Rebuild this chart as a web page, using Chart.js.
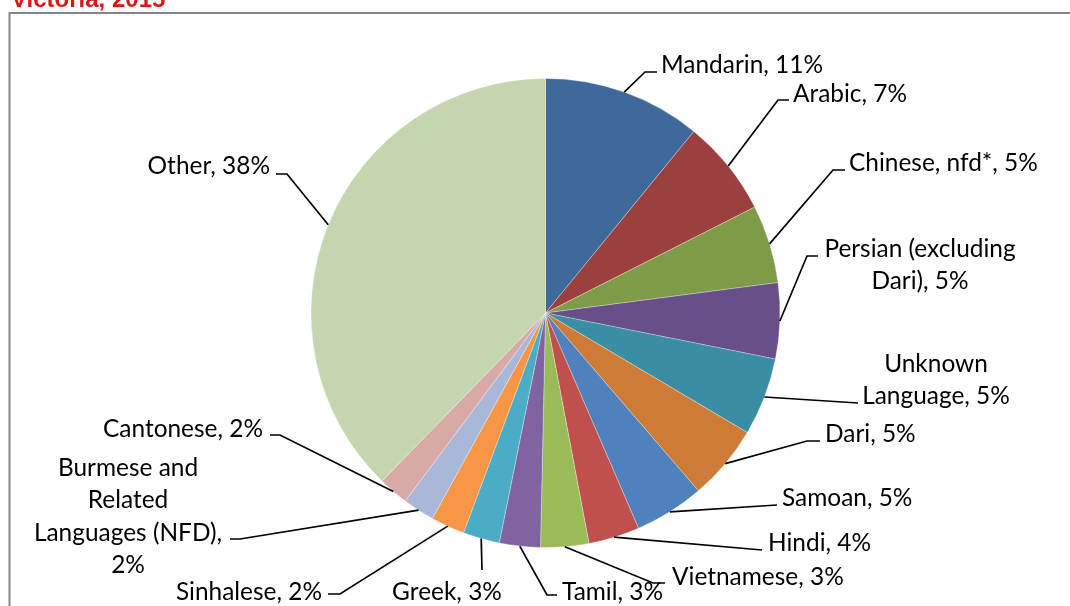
<!DOCTYPE html>
<html><head><meta charset="utf-8">
<script src="https://cdn.jsdelivr.net/npm/chart.js@4/dist/chart.umd.min.js"></script>
<style>html,body{margin:0;padding:0;background:#fff}#wrap{width:1070px;height:606px;position:relative}</style>
</head><body><div id="wrap"><canvas id="c" width="1070" height="606"></canvas></div>
<script>
const titleText = "Victoria, 2015";
const categories = ["Mandarin","Arabic","Chinese, nfd*","Persian (excluding Dari)","Unknown Language","Dari","Samoan","Hindi","Vietnamese","Tamil","Greek","Sinhalese","Burmese and Related Languages (NFD)","Cantonese","Other"];
const shares = [10.9,6.64,5.39,5.22,5.36,5.19,4.81,3.52,3.31,2.82,2.52,2.33,2.19,2.08,37.72];
const sliceColors = ["#3F699B","#9B403E","#7E9B48","#694F8A","#3A8DA3","#CD7B37","#4F81BD","#C0504D","#9BBB59","#8064A2","#4BACC6","#F79646","#A9B8D8","#D9A9A8","#C5D5AD"];

// label placement (layout only)
const labelLayout = [
 {x:661,y:65,align:'left',pts:[[645,72],[657,72]]},
 {x:793,y:94,align:'left',pts:[[778,100],[789,100]]},
 {x:849,y:163,align:'left',pts:[[833,170],[845,170]]},
 {x:920,y:249,align:'center',wrap:[2,2],pts:[[807,256],[818,256]]},
 {x:936,y:364,align:'center',wrap:[1,2],pts:[[858,403]]},
 {x:825,y:434,align:'left',pts:[[807,441],[820,441]]},
 {x:782,y:498,align:'left',pts:[[777,505]]},
 {x:768,y:543,align:'left',pts:[[762,550]]},
 {x:672,y:577,align:'left',pts:[[653,583],[665,583]]},
 {x:562,y:592,align:'left',pts:[[547,595],[557,595]]},
 {x:447,y:592,align:'center',pts:[[482,570]]},
 {x:322,y:592,align:'right',pts:[[340,594],[328,594]]},
 {x:128,y:468,align:'center',wrap:[2,1,2,1],pts:[[240,539],[230,539]]},
 {x:263,y:429,align:'right',pts:[[280,435],[270,435]]},
 {x:270,y:166,align:'right',pts:[[287,174],[276,174]]}
];
const lineGap = 32.4;

const total = shares.reduce((a,b)=>a+b,0);
const labelTexts = categories.map((c,i)=> c + ", " + Math.round(shares[i]/total*100) + "%");

const ctx0 = document.getElementById('c').getContext('2d');
ctx0.font = "21.5px Lato";
const fitW = ctx0.measureText("Mandarin, 11%").width;
const labelFontSize = 21.5 * 162 / fitW;

const decor = {
  id:'decor',
  beforeDraw(chart){
    const ctx = chart.ctx;
    ctx.save();
    ctx.fillStyle = '#fff';
    ctx.fillRect(0,0,chart.width,chart.height);
    ctx.strokeStyle = '#868686';
    ctx.lineWidth = 2;
    ctx.strokeRect(9.5, 13, 1100, 700);
    ctx.fillStyle = '#DD1515';
    ctx.font = "bold 24px 'Liberation Sans', Arial, sans-serif";
    ctx.textBaseline = 'alphabetic';
    ctx.textAlign = 'left';
    ctx.fillText(titleText, 11, 7);
    ctx.restore();
  },
  afterDatasetsDraw(chart){
    const ctx = chart.ctx;
    const arcs = chart.getDatasetMeta(0).data;
    ctx.save();
    ctx.strokeStyle = '#000';
    ctx.lineWidth = 1.7;
    ctx.fillStyle = '#000';
    ctx.font = labelFontSize.toFixed(2) + "px Lato, 'Open Sans', sans-serif";
    ctx.textBaseline = 'alphabetic';
    arcs.forEach((arc,i)=>{
      const L = labelLayout[i];
      const p = arc.getProps(['x','y','startAngle','endAngle','outerRadius'], true);
      const mid = (p.startAngle + p.endAngle)/2;
      const sx = p.x + Math.cos(mid)*p.outerRadius;
      const sy = p.y + Math.sin(mid)*p.outerRadius;
      ctx.beginPath();
      ctx.moveTo(sx, sy);
      L.pts.forEach(q=>ctx.lineTo(q[0], q[1]));
      ctx.stroke();
      const words = labelTexts[i].split(' ');
      let lines = [labelTexts[i]];
      if (L.wrap){
        lines = []; let k = 0;
        L.wrap.forEach(n=>{ lines.push(words.slice(k,k+n).join(' ')); k+=n; });
      }
      ctx.textAlign = L.align;
      lines.forEach((t,j)=> ctx.fillText(t, L.x, L.y + 8 + j*lineGap));
    });
    ctx.restore();
  }
};

new Chart(document.getElementById('c'), {
  type:'pie',
  data:{ labels:categories, datasets:[{ data:shares, backgroundColor:sliceColors, borderColor:'rgba(255,255,255,0.3)', borderWidth:1 }]},
  options:{
    responsive:false, animation:false,
    layout:{ padding:{ top:78, bottom:58, left:21, right:0 } },
    plugins:{ legend:{display:false}, tooltip:{enabled:false}, title:{display:false} }
  },
  plugins:[decor]
});
</script></body></html>
